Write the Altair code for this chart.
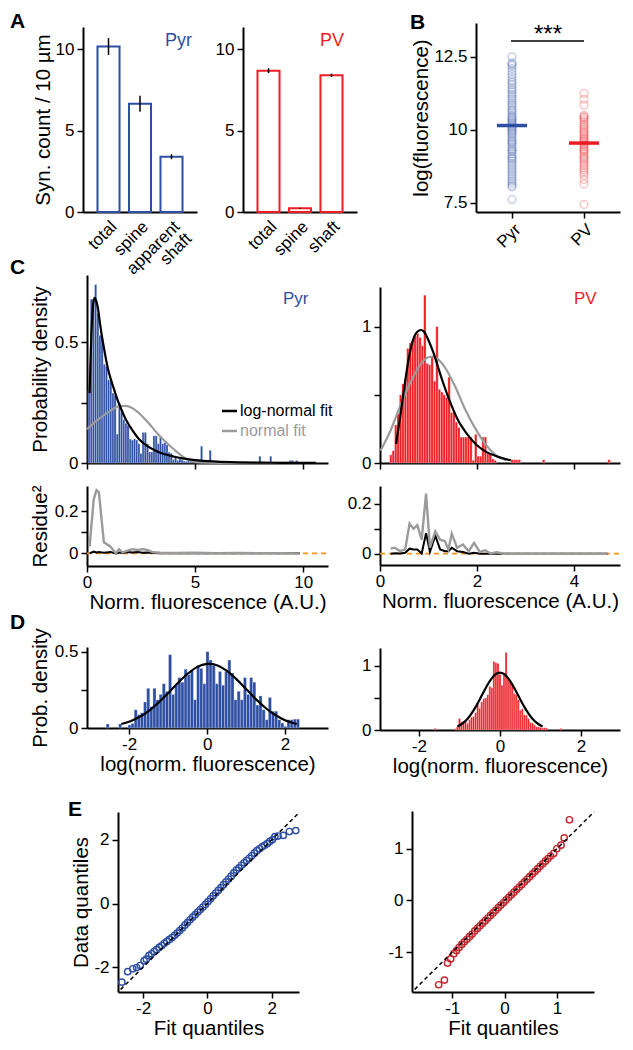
import altair as alt
import pandas as pd

# ======================= DATA =======================
# A: synapse counts per 10 um (mean, s.e.m.)
syn_cat_pyr = ["total", "spine", "apparent shaft"]
syn_val_pyr = [10.15, 6.64, 3.39]
syn_err_pyr = [0.52, 0.49, 0.15]
syn_cat_pv = ["total", "spine", "shaft"]
syn_val_pv = [8.67, 0.23, 8.39]
syn_err_pv = [0.15, 0.03, 0.10]

# B: log(fluorescence) per synapse
groups = ["Pyr", "PV"]
group_mean = [10.15, 9.55]
logf_pyr = [7.62, 8.05, 8.10, 8.18, 8.25, 8.32, 8.40, 8.48, 8.55, 8.62, 8.70, 8.78, 8.85,
            8.92, 9.00, 9.05, 9.10, 9.18, 9.25, 9.30, 9.35, 9.42, 9.50, 9.55, 9.60, 9.65,
            9.72, 9.78, 9.85, 9.90, 9.95, 10.0, 10.05, 10.1, 10.15, 10.2, 10.25, 10.3, 10.35,
            10.4, 10.45, 10.5, 10.58, 10.65, 10.7, 10.78, 10.85, 10.92, 11.0, 11.08, 11.15,
            11.22, 11.3, 11.38, 11.45, 11.55, 11.62, 11.7, 11.8, 11.9, 12.0, 12.1, 12.2,
            12.25, 12.3, 12.5]
logf_pv = [7.45, 8.15, 8.3, 8.45, 8.55, 8.62, 8.7, 8.78, 8.85, 8.92, 9.0, 9.05, 9.1, 9.18,
           9.25, 9.3, 9.35, 9.42, 9.48, 9.52, 9.58, 9.62, 9.68, 9.72, 9.78, 9.85, 9.9, 9.95,
           10.02, 10.08, 10.15, 10.2, 10.28, 10.35, 10.42, 10.45, 10.5, 10.85, 11.05, 11.25]

# C: histograms of normalised fluorescence (bin start, bin width, densities)
hist_pyr_start, hist_pyr_width = 0.05, 0.1
hist_pyr = [0.30, 0.68, 0.68, 0.74, 0.62, 0.53, 0.52, 0.41, 0.40, 0.345,
            0.34, 0.29, 0.28, 0.12, 0.25, 0.21, 0.18, 0.165, 0.157, 0.10,
            0.095, 0.10, 0.095, 0.08, 0.04, 0.127, 0.127, 0.08, 0.046, 0.046,
            0.113, 0.113, 0.08, 0.11, 0.08, 0.085, 0.075, 0.045, 0.04, 0.014,
            0.025, 0.011, 0.018, 0.014, 0.008, 0.007, 0.010, 0.007, 0.008, 0.006,
            0.008, 0.008, 0.07, 0.008, 0.008, 0.008, 0.053, 0.005, 0.004, 0.006,
            0.004, 0.005, 0.003, 0.004, 0.003, 0.004, 0.003, 0.003, 0.003, 0.003,
            0.003, 0.003, 0.003, 0.003, 0.003, 0.003, 0.003, 0.003, 0.003, 0.028,
            0.003, 0.003, 0.003, 0.003, 0.028, 0.003, 0.003, 0.003, 0.003, 0.003,
            0.003, 0.003, 0.003, 0.011, 0.011, 0.003, 0.011, 0.003, 0.003, 0.003]
hist_pv_start, hist_pv_width = 0.20, 0.05
hist_pv = [0.06, 0.09, 0.28, 0.36, 0.50, 0.58, 0.62, 0.84, 0.88, 0.90,
           0.93, 0.95, 0.92, 0.86, 1.23, 0.73, 0.72, 0.78, 0.60, 1.00,
           0.54, 0.52, 0.50, 0.48, 0.63, 0.37, 0.38, 0.30, 0.26, 0.19,
           0.19, 0.19, 0.19, 0.19, 0.02, 0.21, 0.05, 0.05, 0.19, 0.19,
           0.07, 0.07, 0.03, 0.02, 0, 0, 0, 0, 0, 0,
           0.024, 0.024, 0.024, 0.024, 0, 0, 0, 0, 0, 0,
           0, 0, 0, 0.024, 0, 0, 0, 0, 0, 0,
           0, 0, 0, 0, 0, 0, 0, 0, 0, 0,
           0, 0, 0, 0, 0, 0, 0, 0, 0, 0,
           0.024]

# C: fitted curves
pyr_ln_x = [0.12, 0.16, 0.2, 0.25, 0.3, 0.36, 0.42, 0.5, 0.6, 0.7, 0.8, 0.9, 1.0, 1.2, 1.4,
            1.6, 1.8, 2.0, 2.4, 2.8, 3.2, 3.6, 4.0, 4.5, 5.0, 6.0, 7.0, 8.0, 9.0, 10.6]
pyr_ln_y = [0.29, 0.42, 0.53, 0.62, 0.67, 0.685, 0.675, 0.645, 0.58, 0.52, 0.47, 0.42, 0.38,
            0.32, 0.265, 0.22, 0.18, 0.15, 0.10, 0.07, 0.05, 0.036, 0.027, 0.018, 0.012,
            0.006, 0.003, 0.0015, 0.0008, 0.0003]
pyr_n_x = [0.0, 0.3, 0.66, 1.0, 1.44, 1.75, 2.0, 2.22, 2.6, 3.0, 3.3, 3.63, 4.0, 4.25, 4.72,
           5.03, 5.5, 6.5, 8.0, 10.6]
pyr_n_y = [0.14, 0.165, 0.19, 0.212, 0.234, 0.237, 0.232, 0.22, 0.19, 0.15, 0.118, 0.088,
           0.058, 0.039, 0.011, 0.003, 0.001, 0.0004, 0.0002, 0.0001]
pv_ln_x = [0.33, 0.4, 0.5, 0.6, 0.7, 0.8, 0.85, 0.9, 1.0, 1.1, 1.2, 1.3, 1.4, 1.5, 1.6, 1.8,
           2.0, 2.2, 2.4, 2.7]
pv_ln_y = [0.14, 0.30, 0.55, 0.78, 0.92, 0.97, 0.975, 0.965, 0.90, 0.81, 0.70, 0.59, 0.49,
           0.40, 0.32, 0.21, 0.13, 0.08, 0.05, 0.02]
pv_n_x = [0.01, 0.22, 0.43, 0.64, 0.85, 1.0, 1.09, 1.2, 1.34, 1.55, 1.76, 1.97, 2.17, 2.38, 2.6]
pv_n_y = [0.09, 0.24, 0.43, 0.60, 0.73, 0.775, 0.78, 0.76, 0.70, 0.56, 0.39, 0.25, 0.14,
          0.06, 0.02]

# C: squared residues
res_pyr_x = [0.12, 0.31, 0.44, 0.55, 0.78, 1.09, 1.33, 1.48, 1.64, 1.88, 2.1, 2.34, 2.58,
             2.8, 3.05, 3.4, 4.0, 5.0, 6.0, 7.0, 8.0, 9.0, 9.84]
res_pyr_normal = [0.032, 0.256, 0.30, 0.29, 0.053, 0.032, 0.0, 0.02, 0.005, 0.013, 0.02,
                  0.016, 0.02, 0.016, 0.005, 0.003, 0.002, 0.003, 0.001, 0.002, 0.001,
                  0.001, 0.0]
res_pyr_lognormal = [0.0, 0.008, 0.004, 0.006, 0.003, 0.006, 0.0, 0.004, 0.002, 0.006,
                     0.004, 0.006, 0.003, 0.004, 0.002, 0.001, 0.001, 0.0, 0.0, 0.0, 0.0,
                     0.0, 0.0]
res_pv_x = [0.22, 0.31, 0.41, 0.52, 0.61, 0.69, 0.77, 0.86, 0.95, 1.03, 1.14, 1.24, 1.34,
            1.41, 1.48, 1.59, 1.71, 1.83, 1.94, 2.06, 2.17, 2.28, 2.41, 2.55, 3.0, 3.5, 4.0,
            4.69]
res_pv_normal = [0.02, 0.024, 0.01, 0.017, 0.12, 0.10, 0.114, 0.056, 0.24, 0.024, 0.089,
                 0.056, 0.05, 0.017, 0.08, 0.024, 0.037, 0.01, 0.043, 0.007, 0.014, 0.001,
                 0.006, 0.0, 0.0, 0.0, 0.0, 0.0]
res_pv_lognormal = [0.0, 0.002, 0.001, 0.004, 0.02, 0.017, 0.017, 0.001, 0.082, 0.007,
                    0.072, 0.017, 0.01, 0.01, 0.024, 0.01, 0.007, 0.0, 0.004, 0.0, 0.0, 0.0,
                    0.0, 0.0, 0.0, 0.0, 0.0, 0.0]
res_pyr_xmax = 11.15
res_pv_xmax = 4.95

# D: histograms of log(normalised fluorescence)
hlog_pyr_start, hlog_pyr_width = -2.59, 0.08
hlog_pyr = [0.026, 0, 0, 0, 0.026, 0, 0, 0.02, 0.03, 0.12,
            0.087, 0.10, 0.17, 0.26, 0.14, 0.26, 0.185, 0.22, 0.29, 0.24,
            0.48, 0.22, 0.28, 0.33, 0.30, 0.385, 0.35, 0.38, 0.185, 0.41,
            0.39, 0.29, 0.50, 0.445, 0.41, 0.29, 0.37, 0.28, 0.37, 0.445,
            0.36, 0.185, 0.24, 0.185, 0.33, 0.22, 0.33, 0.30, 0.15, 0.21,
            0.12, 0.054, 0.20, 0.11, 0.11, 0.054, 0.033, 0.011, 0.054, 0.054,
            0.058, 0.058]
hlog_pv_start, hlog_pv_width = -1.625, 0.05
hlog_pv = [0.026, 0, 0, 0, 0, 0, 0, 0, 0, 0,
           0.02, 0.05, 0.18, 0.13, 0.13, 0.15, 0.10, 0.16, 0.20, 0.21,
           0.27, 0.42, 0.34, 0.44, 0.49, 0.50, 0.55, 0.68, 0.66, 1.07,
           1.05, 1.04, 0.87, 0.70, 0.86, 1.21, 0.80, 0.78, 0.72, 0.57,
           0.55, 0.47, 0.31, 0.33, 0.24, 0.23, 0.18, 0.12, 0.11, 0.08,
           0.05, 0.05, 0.04, 0.03, 0.036, 0.03, 0, 0, 0, 0,
           0, 0, 0.025]
dfit_pyr_x = [-2.2, -2.0, -1.75, -1.5, -1.25, -1.0, -0.75, -0.5, -0.25, 0.0, 0.05, 0.25, 0.5,
              0.75, 1.0, 1.25, 1.5, 1.75, 2.0, 2.3]
dfit_pyr_y = [0.026, 0.041, 0.070, 0.111, 0.165, 0.228, 0.295, 0.355, 0.40, 0.419, 0.42,
              0.411, 0.376, 0.32, 0.255, 0.189, 0.131, 0.085, 0.051, 0.026]
dfit_pv_x = [-1.05, -0.9, -0.8, -0.7, -0.6, -0.5, -0.4, -0.3, -0.2, -0.1, 0.0, 0.1, 0.2,
             0.3, 0.4, 0.5, 0.6, 0.7, 0.8, 0.9, 1.05]
dfit_pv_y = [0.055, 0.116, 0.177, 0.26, 0.361, 0.477, 0.598, 0.714, 0.81, 0.874, 0.896,
             0.874, 0.81, 0.714, 0.598, 0.477, 0.361, 0.26, 0.177, 0.116, 0.055]

# E: quantile-quantile plots
qq_pyr_fit = [-2.66, -2.48, -2.32, -2.20, -2.09, -1.97, -1.90,
              -1.82, -1.74, -1.66, -1.58, -1.50, -1.42, -1.34, -1.26, -1.18, -1.10, -1.02,
              -0.94, -0.86, -0.78, -0.70, -0.62, -0.54, -0.46, -0.38, -0.30, -0.22, -0.14,
              -0.06,
              0.02, 0.10, 0.18, 0.26, 0.34, 0.42, 0.50, 0.58, 0.66, 0.74, 0.82, 0.90, 0.98,
              1.06, 1.14, 1.22, 1.30, 1.38, 1.46, 1.54, 1.62, 1.70, 1.78, 1.86, 1.94,
              2.02, 2.10, 2.20, 2.36, 2.55, 2.75]
qq_pyr_data = [-2.47, -2.14, -2.05, -2.01, -1.95, -1.80, -1.75,
               -1.64, -1.58, -1.51, -1.45, -1.38, -1.32, -1.25, -1.19, -1.13, -1.07, -1.00,
               -0.93, -0.85, -0.77, -0.68, -0.60, -0.51, -0.43, -0.35, -0.27, -0.19, -0.11,
               -0.03,
               0.06, 0.15, 0.24, 0.33, 0.41, 0.50, 0.59, 0.68, 0.77, 0.86, 0.96, 1.05, 1.12,
               1.20, 1.28, 1.35, 1.42, 1.50, 1.58, 1.66, 1.72, 1.78, 1.83, 1.88, 1.95,
               2.00, 2.10, 2.12, 2.14, 2.26, 2.29]
qq_pv_fit = [-1.26, -1.15, -1.09, -1.03, -0.97,
             -0.92, -0.87, -0.82, -0.77, -0.72, -0.67, -0.62, -0.57, -0.52, -0.47, -0.42,
             -0.37, -0.32, -0.27, -0.22, -0.17, -0.12, -0.07, -0.02, 0.03, 0.08, 0.13, 0.18,
             0.23, 0.28, 0.33, 0.38, 0.43, 0.48, 0.53, 0.58, 0.63, 0.68, 0.73, 0.78, 0.83,
             0.88,
             0.94, 1.00, 1.08, 1.14, 1.24]
qq_pv_data = [-1.63, -1.54, -1.21, -1.13, -1.03,
              -0.97, -0.91, -0.85, -0.80, -0.75, -0.70, -0.65, -0.59, -0.54, -0.49, -0.44,
              -0.39, -0.34, -0.29, -0.24, -0.19, -0.14, -0.09, -0.04, 0.01, 0.06, 0.11, 0.16,
              0.21, 0.26, 0.31, 0.36, 0.41, 0.46, 0.51, 0.56, 0.61, 0.66, 0.71, 0.76, 0.81,
              0.86,
              0.91, 1.00, 1.07, 1.21, 1.56]
qq_pyr_diag = [-2.7, 2.86]
qq_pv_diag = [-1.72, 1.71]

# ======================= STYLE / LAYOUT =======================
FONT = "Liberation Sans"
BLUE = "#2d4ea2"
RED = "#ee1d24"
DARKRED = "#c1272d"
GRAY = "#9b9b9b"
ORANGE = "#f7941d"
OX, OY = 8, 8          # page offset of the plot origin
W, H = 617, 1034       # one big plotting canvas

NUM = "(datum.value < 0 ? '-' : '') + format(abs(datum.value), '~r')"


def X(a, b):
    return [a - OX, b - OX]


def Y(bottom, top):
    return [bottom - OY, top - OY]


def qscale(dom, rng):
    return alt.Scale(domain=dom, range=rng, nice=False, zero=False)


def left_axis(xpix, values, title=None, hide=None, pad=3):
    expr = NUM if hide is None else f"datum.value == {hide} ? '' : " + NUM
    return alt.Axis(orient="left", offset=-(xpix - OX), values=values, labelExpr=expr,
                    title=title, titlePadding=pad)


def bottom_axis(ypix, values, title=None, labels=True, tpad=2):
    return alt.Axis(orient="bottom", offset=(ypix - OY) - H, values=values, labelExpr=NUM,
                    labels=labels, title=title, titlePadding=tpad, labelPadding=2)


def hist_df(start, width, heights):
    rows = [{"x0": start + i * width, "x1": start + (i + 1) * width, "h": h, "b": 0}
            for i, h in enumerate(heights) if h > 0]
    return pd.DataFrame(rows)


def xy_df(xs, ys):
    return pd.DataFrame({"x": xs, "y": ys})


ONE = pd.DataFrame({"k": [0]})


def txt(s, x, y, size, color="black", weight="normal", align="left", baseline="alphabetic"):
    return alt.Chart(ONE).mark_text(text=s, font=FONT, fontSize=size, color=color,
                                    fontWeight=weight, align=align, baseline=baseline
                                    ).encode(x=alt.value(x - OX), y=alt.value(y - OY))


def hrule(x1, x2, y, color, width):
    return alt.Chart(ONE).mark_rule(color=color, strokeWidth=width).encode(
        x=alt.value(x1 - OX), x2=alt.value(x2 - OX), y=alt.value(y - OY))


# ---------- Panel A ----------
def panel_a(cats, vals, errs, color, x0, x1, title=None):
    df = pd.DataFrame({"cat": cats, "v": vals,
                       "lo": [v - e for v, e in zip(vals, errs)],
                       "hi": [v + e for v, e in zip(vals, errs)]})
    xs = alt.Scale(domain=cats, range=X(x0, x1), paddingInner=0.3, paddingOuter=0.46)
    xa = alt.Axis(orient="bottom", offset=(212 - OY) - H, labelAngle=-45, title=None,
                  ticks=False, labelPadding=6, labelLineHeight=17,
                  labelExpr="datum.value == 'apparent shaft' ? ['apparent', 'shaft'] : datum.value")
    ys = qscale([0, 11.35], Y(212, 27))
    ya = left_axis(x0, [0, 5, 10], title, pad=2)
    bars = alt.Chart(df).mark_bar(fill="white", stroke=color, strokeWidth=2).encode(
        x=alt.X("cat:N", scale=xs, axis=xa), y=alt.Y("v:Q", scale=ys, axis=ya, stack=None))
    err = alt.Chart(df).mark_rule(color="black", strokeWidth=1.5).encode(
        x=alt.X("cat:N", scale=xs, axis=xa), y=alt.Y("lo:Q", scale=ys, axis=ya), y2="hi:Q")
    return alt.layer(bars, err)


pA1 = panel_a(syn_cat_pyr, syn_val_pyr, syn_err_pyr, BLUE, 83, 197, "Syn. count / 10 µm")
pA2 = panel_a(syn_cat_pv, syn_val_pv, syn_err_pv, RED, 243, 357)

# ---------- Panel B ----------
b_xs = alt.Scale(type="point", domain=groups, range=X(476, 620), padding=0.5)
b_xa = alt.Axis(orient="bottom", offset=(212 - OY) - H, labelAngle=-45, title=None)
b_ys = qscale([7.19, 13.66], Y(212, 23))
b_ya = left_axis(476, [7.5, 10, 12.5], "log(fluorescence)", pad=2)
b_pts = pd.DataFrame({"g": ["Pyr"] * len(logf_pyr) + ["PV"] * len(logf_pv),
                      "v": logf_pyr + logf_pv})
b_mean = pd.DataFrame({"g": groups, "v": group_mean})
b_layers = []
for g, col in zip(groups, [BLUE, RED]):
    b_layers.append(alt.Chart(b_pts[b_pts.g == g]).mark_point(
        shape="circle", filled=False, size=60, strokeWidth=1.5, color=col, opacity=0.25
    ).encode(x=alt.X("g:N", scale=b_xs, axis=b_xa), y=alt.Y("v:Q", scale=b_ys, axis=b_ya)))
for g, col in zip(groups, [BLUE, RED]):
    b_layers.append(alt.Chart(b_mean[b_mean.g == g]).mark_tick(
        size=30, thickness=3.5, color=col, opacity=1
    ).encode(x=alt.X("g:N", scale=b_xs, axis=b_xa), y=alt.Y("v:Q", scale=b_ys, axis=b_ya)))
pB = alt.layer(*b_layers)


# ---------- histogram panels (C top, D) ----------
def hist_panel(hdf, color, curves, xs, ys, xa, ya):
    layers = [alt.Chart(hdf).mark_bar(fill=color, stroke="white", strokeWidth=0.3).encode(
        x=alt.X("x0:Q", scale=xs, axis=xa), x2="x1:Q",
        y=alt.Y("h:Q", scale=ys, axis=ya, stack=None), y2="b:Q")]
    for cdf, ccol, cw in curves:
        layers.append(alt.Chart(cdf).mark_line(color=ccol, strokeWidth=cw,
                                               interpolate="monotone").encode(
            x=alt.X("x:Q", scale=xs, axis=xa), y=alt.Y("y:Q", scale=ys, axis=ya)))
    return alt.layer(*layers)


pC1 = hist_panel(hist_df(hist_pyr_start, hist_pyr_width, hist_pyr), BLUE,
                 [(xy_df(pyr_n_x, pyr_n_y), GRAY, 2.2), (xy_df(pyr_ln_x, pyr_ln_y), "black", 2.2)],
                 qscale([0, 11.15], X(87, 328)), qscale([0, 0.78], Y(463, 275)),
                 bottom_axis(463, [0, 5, 10], labels=False),
                 left_axis(87, [0, 0.25, 0.5], "Probability density", 0.25, pad=4))
pC2 = hist_panel(hist_df(hist_pv_start, hist_pv_width, hist_pv), RED,
                 [(xy_df(pv_n_x, pv_n_y), GRAY, 2.2), (xy_df(pv_ln_x, pv_ln_y), "black", 2.2)],
                 qscale([0, 4.95], X(380, 620)), qscale([0, 1.29], Y(463, 287)),
                 bottom_axis(463, [0, 2, 4], labels=False),
                 left_axis(380, [0, 0.5, 1], None, 0.5))

pD1 = hist_panel(hist_df(hlog_pyr_start, hlog_pyr_width, hlog_pyr), BLUE,
                 [(xy_df(dfit_pyr_x, dfit_pyr_y), "black", 2.2)],
                 qscale([-3.08, 3.1], X(87, 328)), qscale([0, 0.53], Y(728, 647)),
                 bottom_axis(728, [-2, 0, 2], "log(norm. fluorescence)"),
                 left_axis(87, [0, 0.25, 0.5], "Prob. density", 0.25, pad=4))
pD2 = hist_panel(hist_df(hlog_pv_start, hlog_pv_width, hlog_pv), RED,
                 [(xy_df(dfit_pv_x, dfit_pv_y), "black", 2.2)],
                 qscale([-2.96, 2.96], X(380, 620)), qscale([0, 1.28], Y(730, 648)),
                 bottom_axis(730, [-2, 0, 2], "log(norm. fluorescence)"),
                 left_axis(380, [0, 0.5, 1], None, 0.5))


# ---------- residue panels ----------
def residue_panel(xv, norm, logn, xmax, xs, ys, xa, ya):
    zero = xy_df([0, xmax], [0, 0])
    z = alt.Chart(zero).mark_line(color=ORANGE, strokeWidth=1.8, strokeDash=[5, 4]).encode(
        x=alt.X("x:Q", scale=xs, axis=xa), y=alt.Y("y:Q", scale=ys, axis=ya))
    b = alt.Chart(xy_df(xv, logn)).mark_line(color="black", strokeWidth=2).encode(
        x=alt.X("x:Q", scale=xs, axis=xa), y=alt.Y("y:Q", scale=ys, axis=ya))
    g = alt.Chart(xy_df(xv, norm)).mark_line(color=GRAY, strokeWidth=2.4).encode(
        x=alt.X("x:Q", scale=xs, axis=xa), y=alt.Y("y:Q", scale=ys, axis=ya))
    return alt.layer(z, b, g)


pR1 = residue_panel(res_pyr_x, res_pyr_normal, res_pyr_lognormal, res_pyr_xmax,
                    qscale([0, 11.15], X(87, 328)), qscale([-0.06, 0.32], Y(566, 486)),
                    bottom_axis(566, [0, 5, 10], "Norm. fluorescence (A.U.)"),
                    left_axis(87, [0, 0.1, 0.2], "Residue²", 0.1, pad=4))
pR2 = residue_panel(res_pv_x, res_pv_normal, res_pv_lognormal, res_pv_xmax,
                    qscale([0, 4.95], X(380, 620)), qscale([-0.045, 0.27], Y(565, 486)),
                    bottom_axis(565, [0, 2, 4], "Norm. fluorescence (A.U.)"),
                    left_axis(380, [0, 0.1, 0.2], None, 0.1))


# ---------- QQ panels ----------
def qq_panel(fit, data, diag, color, xs, ys, xa, ya):
    pts = alt.Chart(pd.DataFrame({"x": fit, "y": data})).mark_point(
        shape="circle", filled=False, size=40, strokeWidth=1.4, color=color, opacity=1
    ).encode(x=alt.X("x:Q", scale=xs, axis=xa), y=alt.Y("y:Q", scale=ys, axis=ya))
    line = alt.Chart(pd.DataFrame({"x": diag, "y": diag})).mark_line(
        color="black", strokeWidth=1.5, strokeDash=[4, 3]
    ).encode(x=alt.X("x:Q", scale=xs, axis=xa), y=alt.Y("y:Q", scale=ys, axis=ya))
    return alt.layer(pts, line)


pE1 = qq_panel(qq_pyr_fit, qq_pyr_data, qq_pyr_diag, BLUE,
               qscale([-2.78, 2.85], X(118, 299)), qscale([-2.78, 2.875], Y(992, 812)),
               bottom_axis(992, [-2, 0, 2], "Fit quantiles", tpad=2),
               left_axis(118, [-2, 0, 2], "Data quantiles", pad=2))
pE2 = qq_panel(qq_pv_fit, qq_pv_data, qq_pv_diag, DARKRED,
               qscale([-1.77, 1.71], X(412, 594)), qscale([-1.77, 1.73], Y(992, 811)),
               bottom_axis(992, [-1, 0, 1], "Fit quantiles", tpad=2),
               left_axis(412, [-1, 0, 1], None))

# ---------- annotations ----------
notes = [
    txt("A", 10, 28, 21, weight="bold"),
    txt("B", 410, 29, 21, weight="bold"),
    txt("C", 10, 274, 21, weight="bold"),
    txt("D", 10, 629, 21, weight="bold"),
    txt("E", 68, 816, 21, weight="bold"),
    txt("Pyr", 165, 46, 18, color=BLUE),
    txt("PV", 320, 46, 18, color=RED),
    txt("Pyr", 283, 304, 17, color=BLUE),
    txt("PV", 574, 304, 17, color=RED),
    txt("***", 548, 42, 24, align="center"),
    hrule(511, 584, 41, "black", 1.5),
    hrule(222, 237, 411, "black", 2.5),
    hrule(222, 237, 431, GRAY, 2.5),
    txt("log-normal fit", 240, 411, 16, baseline="middle"),
    txt("normal fit", 240, 431, 16, color=GRAY, baseline="middle"),
]

chart = alt.layer(pA1, pA2, pB, pC1, pC2, pR1, pR2, pD1, pD2, pE1, pE2, *notes).resolve_scale(
    x="independent", y="independent"
).properties(
    width=W, height=H, autosize=alt.AutoSizeParams(type="none"), padding=0
).configure_view(stroke=None).configure_axis(
    labelFont=FONT, titleFont=FONT, labelFontSize=17, titleFontSize=20.5,
    titleFontWeight="normal", labelColor="black", titleColor="black",
    domainColor="black", tickColor="black", domainWidth=2, tickWidth=1.5, tickSize=6,
    labelPadding=3, grid=False, labelFlush=False, labelOverlap=False, minExtent=0
)

chart.save("out.html", embed_options={"renderer": "svg", "actions": False})
